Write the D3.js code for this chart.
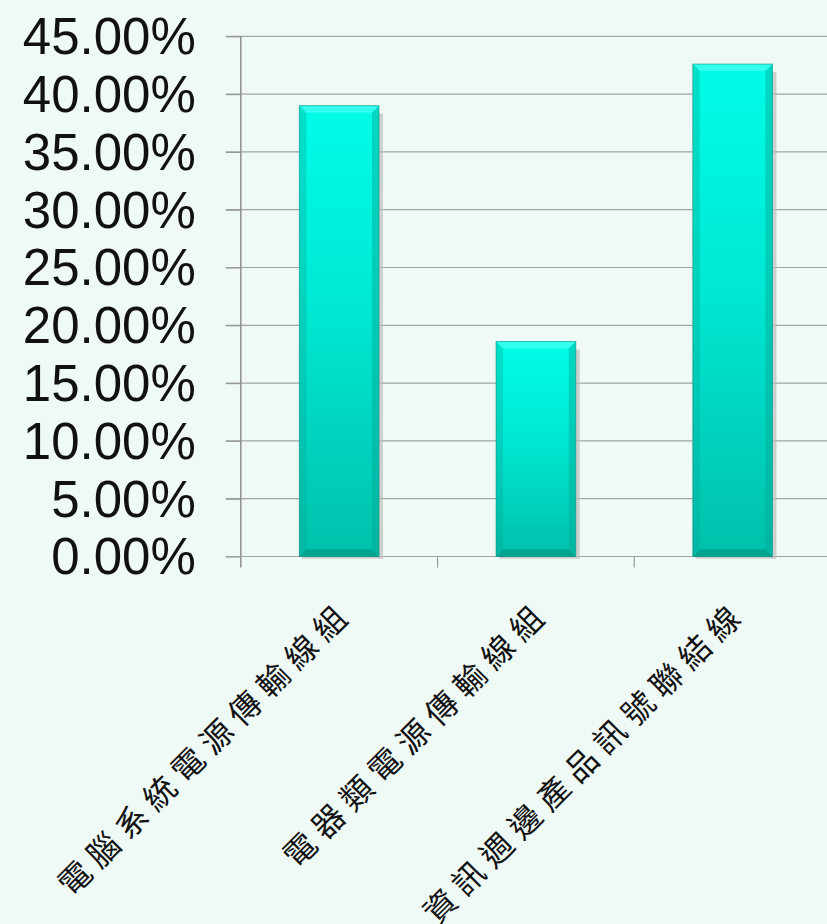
<!DOCTYPE html>
<html>
<head>
<meta charset="utf-8">
<script src="https://cdn.jsdelivr.net/npm/d3@7"></script>
<style>
html,body{margin:0;padding:0;background:#effaf7;}
svg{display:block;}
</style>
</head>
<body>
<script>
const categories = ["電腦系統電源傳輸線組", "電器類電源傳輸線組", "資訊週邊產品訊號聯結線"];
const values = [0.390, 0.186, 0.426];
const yTicks = [0, 0.05, 0.10, 0.15, 0.20, 0.25, 0.30, 0.35, 0.40, 0.45];

const W = 827, H = 924;
const svg = d3.select("body").append("svg").attr("width", W).attr("height", H);
svg.append("rect").attr("width", W).attr("height", H).attr("fill", "#effaf7");

const plot = {left: 240.8, right: 831, top: 36.3, bottom: 556.5};

const y = d3.scaleLinear().domain([0, 0.45]).range([plot.bottom, plot.top]);
const x = d3.scaleBand().domain(categories).range([plot.left, plot.right])
  .paddingInner(0.595).paddingOuter(0.2975);
const xb = d3.scaleBand().domain(categories).range([plot.left, plot.right]).padding(0);

const defs = svg.append("defs");
const g = defs.append("linearGradient").attr("id", "barGrad")
  .attr("x1", 0).attr("y1", 0).attr("x2", 0).attr("y2", 1);
g.append("stop").attr("offset", "0%").attr("stop-color", "#00fde8");
g.append("stop").attr("offset", "45%").attr("stop-color", "#00e8d3");
g.append("stop").attr("offset", "100%").attr("stop-color", "#00c0ab");

// gridlines
svg.append("g").selectAll("line").data(yTicks.filter(d => d > 0)).join("line")
  .attr("x1", plot.left - 15).attr("x2", W)
  .attr("y1", d => y(d)).attr("y2", d => y(d))
  .attr("stroke", "#a3a3a3").attr("stroke-width", 1.2);

// y axis
const yAxis = d3.axisLeft(y).tickValues(yTicks).tickFormat(d3.format(".2%")).tickSize(15).tickPadding(30);
const ya = svg.append("g").attr("transform", `translate(${plot.left},0)`).call(yAxis);
ya.select(".domain").remove();
ya.selectAll(".tick line").attr("stroke", "#999").attr("stroke-width", 1.2);
ya.selectAll(".tick text")
  .attr("font-family", "'Liberation Sans', Arial, sans-serif")
  .attr("font-size", 51).attr("fill", "#111")
  .attr("dy", "0.34em").attr("x", -45);
svg.append("line").attr("x1", plot.left).attr("x2", plot.left)
  .attr("y1", plot.top).attr("y2", plot.bottom + 11)
  .attr("stroke", "#8f8f8f").attr("stroke-width", 1.5);

// baseline
svg.append("line").attr("x1", plot.left - 15).attr("x2", W)
  .attr("y1", plot.bottom).attr("y2", plot.bottom)
  .attr("stroke", "#a3a3a3").attr("stroke-width", 1.2);

// category boundary ticks
svg.append("g").selectAll("line").data(categories.slice(1)).join("line")
  .attr("x1", d => xb(d)).attr("x2", d => xb(d))
  .attr("y1", plot.bottom).attr("y2", plot.bottom + 11)
  .attr("stroke", "#999").attr("stroke-width", 1.2);

// bars
const bars = svg.append("g").selectAll("g").data(categories.map((c, i) => ({c, v: values[i]}))).join("g");
// shadow
bars.append("rect")
  .attr("x", d => x(d.c) + x.bandwidth()).attr("y", d => y(d.v) + 8)
  .attr("width", 4).attr("height", d => plot.bottom - y(d.v) - 6)
  .attr("fill", "#bdbdbd").attr("opacity", 0.7);
bars.append("rect")
  .attr("x", d => x(d.c) + 3).attr("y", plot.bottom)
  .attr("width", x.bandwidth()).attr("height", 2)
  .attr("fill", "#c8c8c8");
bars.append("rect")
  .attr("x", d => x(d.c)).attr("y", d => y(d.v))
  .attr("width", x.bandwidth()).attr("height", d => plot.bottom - y(d.v))
  .attr("fill", "url(#barGrad)");
const bw = 7;
// top bevel
bars.append("path").attr("d", d => {
  const x0 = x(d.c), x1 = x0 + x.bandwidth(), y0 = y(d.v);
  return `M${x0},${y0}L${x1},${y0}L${x1 - bw},${y0 + bw}L${x0 + bw},${y0 + bw}Z`;
}).attr("fill", "#5ffff2").attr("opacity", 0.55);
// bottom bevel
bars.append("path").attr("d", d => {
  const x0 = x(d.c), x1 = x0 + x.bandwidth(), y1 = plot.bottom;
  return `M${x0},${y1}L${x1},${y1}L${x1 - bw},${y1 - bw}L${x0 + bw},${y1 - bw}Z`;
}).attr("fill", "#009a87").attr("opacity", 0.75);
// left bevel
bars.append("path").attr("d", d => {
  const x0 = x(d.c), y0 = y(d.v), y1 = plot.bottom;
  return `M${x0},${y0}L${x0 + bw},${y0 + bw}L${x0 + bw},${y1 - bw}L${x0},${y1}Z`;
}).attr("fill", "#00a894").attr("opacity", 0.35);
// right bevel
bars.append("path").attr("d", d => {
  const x1 = x(d.c) + x.bandwidth(), y0 = y(d.v), y1 = plot.bottom;
  return `M${x1},${y0}L${x1 - bw},${y0 + bw}L${x1 - bw},${y1 - bw}L${x1},${y1}Z`;
}).attr("fill", "#00a894").attr("opacity", 0.45);
bars.append("rect")
  .attr("x", d => x(d.c)).attr("y", d => y(d.v))
  .attr("width", x.bandwidth()).attr("height", d => plot.bottom - y(d.v))
  .attr("fill", "none").attr("stroke", "#0a8f80").attr("stroke-width", 1).attr("opacity", 0.6);

// category labels
svg.append("g").selectAll("text").data(categories).join("text")
  .attr("transform", d => `translate(${xb(d) + xb.bandwidth() / 2 + 10},${plot.bottom + 64}) rotate(-45)`)
  .attr("text-anchor", "end")
  .attr("textLength", d => d.length * 40 - 8)
  .attr("lengthAdjust", "spacing")
  .attr("font-family", "'Noto Sans CJK TC', 'Noto Sans CJK SC', sans-serif")
  .attr("font-size", 32).attr("fill", "#111")
  .text(d => d);
</script>
</body>
</html>
